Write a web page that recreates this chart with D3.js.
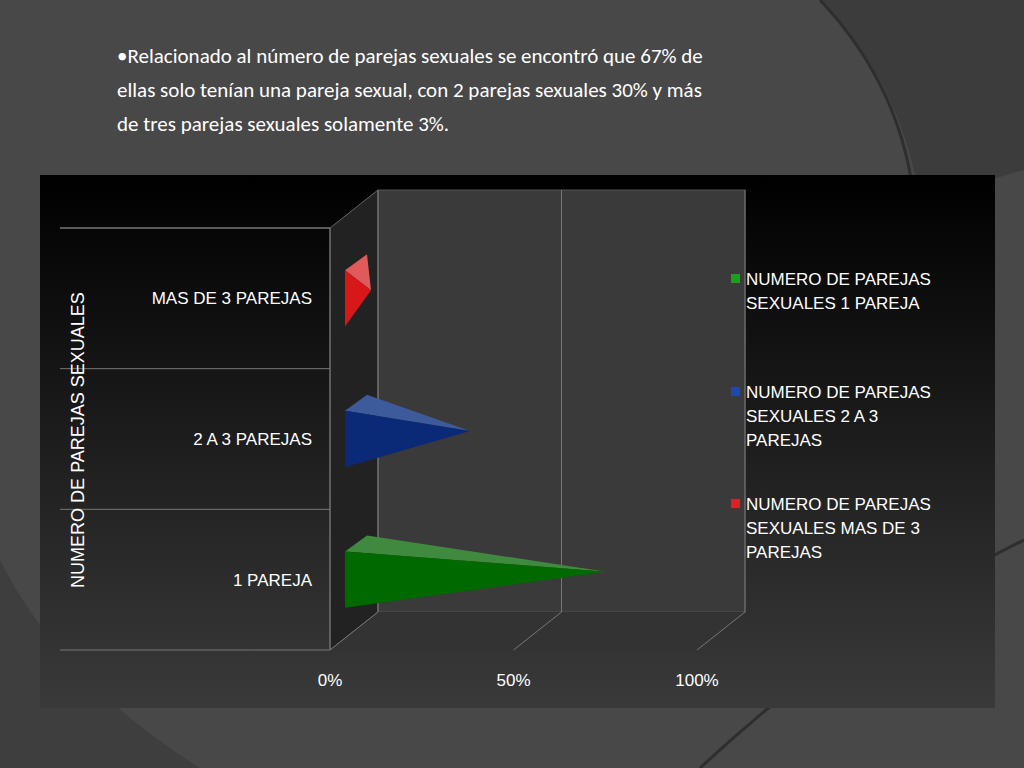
<!DOCTYPE html>
<html><head><meta charset="utf-8">
<script src="https://cdn.jsdelivr.net/npm/d3@7"></script>
<style>body{margin:0;background:#4a4a4a;}svg{display:block;font-family:Arial,"Liberation Sans",sans-serif;}</style>
</head><body><svg id="c" width="1024" height="768"></svg>
<script>
const categories = ["1 PAREJA","2 A 3 PAREJAS","MAS DE 3 PAREJAS"];
const values = [0.67, 0.30, 0.03];
const seriesNames = ["NUMERO DE PAREJAS SEXUALES 1 PAREJA","NUMERO DE PAREJAS SEXUALES 2 A 3 PAREJAS","NUMERO DE PAREJAS SEXUALES MAS DE 3 PAREJAS"];
const legendLines = [["NUMERO DE PAREJAS","SEXUALES 1 PAREJA"],["NUMERO DE PAREJAS","SEXUALES 2 A 3","PAREJAS"],["NUMERO DE PAREJAS","SEXUALES MAS DE 3","PAREJAS"]];
const ticks = [0, 0.5, 1];
const tickLabels = ["0%","50%","100%"];
const colors = [{f:"#006a00",t:"#3f8a3f",l:"#1aa01a"},{f:"#0a2a78",t:"#3d5a9a",l:"#1d48b0"},{f:"#d81818",t:"#e05a5a",l:"#e02020"}];
const titleLines = ["•Relacionado al número de parejas sexuales se encontró que 67% de","ellas solo tenían una pareja sexual, con 2 parejas sexuales 30% y más","de tres parejas sexuales solamente 3%."];

(function(){
const svg = d3.select("#c");
const defs = svg.append("defs");
svg.append("rect").attr("width",1024).attr("height",768).attr("fill","#484848");
svg.append("path").attr("d","M820,0 Q900,80 920,200 L1024,170 L1024,0Z").attr("fill","#3c3c3c");
svg.append("path").attr("d","M0,560 Q60,680 200,768 L0,768Z").attr("fill","#3e3e3e");
svg.append("path").attr("d","M820,0 Q905,90 915,210").attr("fill","none").attr("stroke","#2e2e2e").attr("stroke-width",3);
svg.append("path").attr("d","M700,768 Q860,620 1024,540").attr("fill","none").attr("stroke","#2e2e2e").attr("stroke-width",3);

titleLines.forEach((t,i)=>svg.append("text").attr("x",117).attr("y",63+i*34).attr("fill","#fff").attr("font-size",21).attr("font-family","Calibri,Carlito,'Liberation Sans',sans-serif").text(t));

const g1 = defs.append("linearGradient").attr("id","bg").attr("x1",0).attr("y1",0).attr("x2",0).attr("y2",1);
g1.append("stop").attr("offset",0).attr("stop-color","#000");
g1.append("stop").attr("offset",1).attr("stop-color","#3a3a3a");
svg.append("rect").attr("x",40).attr("y",175).attr("width",955).attr("height",533).attr("fill","url(#bg)");

const dx=48, dy=-38;
const x = d3.scaleLinear().domain([0,1]).range([330,697]);
const y = d3.scaleBand().domain(categories).range([650,228]);
const yTop=228, yBot=650;
svg.append("rect").attr("x",x(0)+dx).attr("y",yTop+dy).attr("width",x(1)-x(0)).attr("height",yBot-yTop).attr("fill","#3a3a3a").attr("stroke","#555");
svg.append("path").attr("d",`M${x(0)},${yTop}L${x(0)+dx},${yTop+dy}L${x(0)+dx},${yBot+dy}L${x(0)},${yBot}Z`).attr("fill","#222").attr("stroke","#666");
svg.append("path").attr("d",`M${x(0)},${yBot}L${x(0)+dx},${yBot+dy}L${x(1)+dx},${yBot+dy}L${x(1)},${yBot}Z`).attr("fill","#333");
ticks.forEach(t=>{
  svg.append("line").attr("x1",x(t)+dx).attr("x2",x(t)+dx).attr("y1",yTop+dy).attr("y2",yBot+dy).attr("stroke","#777");
  svg.append("line").attr("x1",x(t)).attr("x2",x(t)+dx).attr("y1",yBot).attr("y2",yBot+dy).attr("stroke","#777");
});
categories.forEach(c=>{
  svg.append("line").attr("x1",60).attr("x2",x(0)).attr("y1",y(c)).attr("y2",y(c)).attr("stroke","#777");
});
svg.append("line").attr("x1",60).attr("x2",x(0)).attr("y1",yTop).attr("y2",yTop).attr("stroke","#777");
svg.append("line").attr("x1",60).attr("x2",x(0)).attr("y1",yBot).attr("y2",yBot).attr("stroke","#777");
svg.append("line").attr("x1",x(0)).attr("x2",x(0)).attr("y1",yTop).attr("y2",yBot).attr("stroke","#777");

categories.forEach((c,i)=>{
  const y0=y(c)+y.bandwidth()*0.3, y1=y(c)+y.bandwidth()*0.7;
  const bx=x(0)+15, ox=22, oy=-16;
  const tx=x(values[i])+30, ty=(y0+y1)/2+oy/2;
  svg.append("path").attr("d",`M${bx},${y0}L${bx+ox},${y0+oy}L${tx},${ty}Z`).attr("fill",colors[i].t);
  svg.append("path").attr("d",`M${bx},${y0}L${bx},${y1}L${tx},${ty}Z`).attr("fill",colors[i].f);
  svg.append("text").attr("x",312).attr("y",y(c)+y.bandwidth()/2+6).attr("text-anchor","end").attr("fill","#fff").attr("font-size",17).text(c);
});
ticks.forEach((t,i)=>svg.append("text").attr("x",x(t)).attr("y",686).attr("text-anchor","middle").attr("fill","#fff").attr("font-size",17).text(tickLabels[i]));
svg.append("text").attr("transform","translate(84,440) rotate(-90)").attr("text-anchor","middle").attr("fill","#fff").attr("font-size",18).text("NUMERO DE PAREJAS SEXUALES");

const ly=[278,391,503];
legendLines.forEach((ls,i)=>{
  svg.append("rect").attr("x",731).attr("y",ly[i]-4).attr("width",9).attr("height",9).attr("fill",colors[i].l);
  ls.forEach((l,j)=>svg.append("text").attr("x",746).attr("y",ly[i]+7+j*24).attr("fill","#fff").attr("font-size",17).text(l));
});
})();
</script></body></html>
